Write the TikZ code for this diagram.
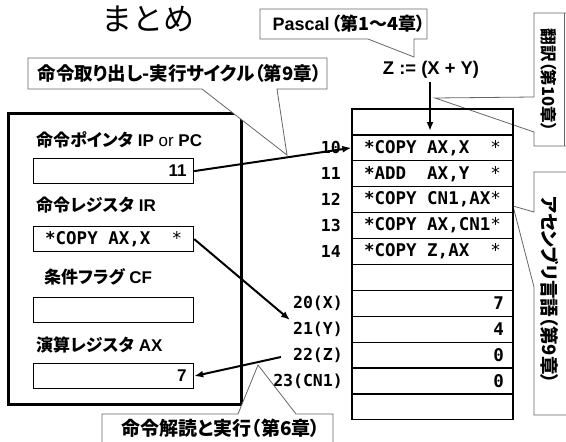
\documentclass[tikz,border=0pt]{standalone}
\usepackage{fontspec}
\setmainfont{Liberation Sans}
\newfontfamily\jp[RawFeature=+palt]{Noto Sans CJK JP}
\newfontfamily\jptitle{Noto Sans CJK JP}
\newfontfamily\mono{DejaVu Sans Mono}
\usetikzlibrary{arrows.meta}
\newcommand\mystar{{\mdseries *}}
\newcommand\msp{\hphantom{X}}
\tikzset{
  lbl/.style={font=\bfseries\fontsize{17}{17}\selectfont, anchor=west, inner sep=0pt},
  calltext/.style={font=\jp\bfseries\fontsize{18.5}{18.5}\selectfont, inner sep=0pt},
  callout/.style={draw=black!60, line width=0.8pt, fill=white},
  reg/.style={draw, line width=1.2pt, minimum height=25pt, inner ysep=0pt, anchor=north west,
              text width=146pt, inner xsep=7pt, font=\bfseries\fontsize{17}{17}\selectfont},
  instr/.style={draw, line width=1.2pt, minimum height=25.9pt, inner ysep=0pt,
              text width=137pt, inner xsep=12pt, align=left, font=\mono\bfseries\fontsize{17.5}{17.5}\selectfont},
  datarow/.style={draw, line width=1.2pt, minimum height=25.9pt, inner ysep=0pt,
              text width=143pt, inner xsep=9pt, align=right, font=\mono\bfseries\fontsize{17.5}{17.5}\selectfont},
  addr/.style={anchor=east, inner sep=0pt, font=\mono\bfseries\fontsize{16.5}{16.5}\selectfont},
  arr/.style={-{Latex[length=9pt,width=7pt]}, line width=2pt},
}
\begin{document}
\begin{tikzpicture}[x=1pt, y=-1pt]
\useasboundingbox (0,0) rectangle (566,442);
\clip (0,0) rectangle (566,442);
\fill[white] (0,0) rectangle (566,442);

% title
\node[font=\jptitle\fontsize{31}{31}\selectfont, inner sep=0pt] (title) at (148,19) {まとめ};

% CPU box
\node[draw, line width=3pt, minimum width=233pt, minimum height=291pt, inner sep=0pt, anchor=north west] (cpu) at (7,112) {};

\node[lbl] (ipl) at (36,140) {{\jp 命令ポインタ} IP {\mdseries or} PC};
\node[reg, align=right] (ip) at (33,158) {11};
\node[lbl] (irl) at (36,205) {{\jp 命令レジスタ} IR};
\node[reg, align=center, font=\mono\bfseries\fontsize{17.5}{17.5}\selectfont] (ir) at (33,226) {*COPY\msp AX,X\msp\msp\mystar};
\node[lbl] (cfl) at (44,277) {{\jp 条件フラグ} CF};
\node[reg] (cf) at (33,297) {};
\node[lbl] (axl) at (36,345) {{\jp 演算レジスタ} AX};
\node[reg, align=right] (ax) at (33,363) {7};

% callouts
\path[callout] (260,9) -- (427,9) -- (427,39) -- (414,39) -- (414,57) -- (368,39) -- (260,39) -- cycle;
\node[inner sep=0pt, font=\bfseries\fontsize{18}{18}\selectfont] (pascal) at (349,24) {Pascal\kern2pt{\jp（第1～4章）}};

\path[callout] (28,58) -- (327,58) -- (327,89) -- (277,89) -- (287,155) -- (202,89) -- (28,89) -- cycle;
\node[calltext] (cycle) at (179.5,73.5) {命令取り出し-実行サイクル（第9章）};

\path[callout] (534,13) -- (570,13) -- (570,146) -- (534,146) -- (534,132) -- (435,98) -- (534,97) -- cycle;
\draw[draw=black!60, line width=0.8pt] (564,13) -- (564,146);
\node[calltext, rotate=-90, font=\jp\bfseries\fontsize{16.5}{16.5}\selectfont] (trans) at (549,80) {翻訳（第10章）};

\path[callout] (534,172) -- (570,172) -- (570,415) -- (534,415) -- (534,287) -- (513,206) -- (534,212) -- cycle;
\node[calltext, rotate=-90] (asm) at (550,290) {アセンブリ言語（第9章）};

\path[callout] (102,414) -- (238,414) -- (258,365) -- (296,414) -- (333,414) -- (333,450) -- (102,450) -- cycle;
\node[calltext, font=\jp\bfseries\fontsize{19}{19}\selectfont] (decode) at (221,428) {命令解読と実行（第6章）};

% Z expression
\node[inner sep=0pt, font=\bfseries\fontsize{18.4}{18.4}\selectfont] (zexpr) at (431,70) {Z := (X + Y)};

% memory table
\node[instr] (r0) at (432.5,121.95) {~};
\node[instr] (r1) at (432.5,147.85) {*COPY\msp AX,X\msp\msp\mystar};
\node[instr] (r2) at (432.5,173.75) {*ADD\msp\msp AX,Y\msp\msp\mystar};
\node[instr] (r3) at (432.5,199.65) {*COPY\msp CN1,AX\mystar};
\node[instr] (r4) at (432.5,225.55) {*COPY\msp AX,CN1\mystar};
\node[instr] (r5) at (432.5,251.45) {*COPY\msp Z,AX\msp\msp\mystar};
\node[instr] (r6) at (432.5,277.35) {~};
\node[datarow] (r7) at (432.5,303.25) {7};
\node[datarow] (r8) at (432.5,329.15) {4};
\node[datarow] (r9) at (432.5,355.05) {0};
\node[datarow] (r10) at (432.5,380.95) {0};
\node[datarow] (r11) at (432.5,406.85) {~};

\node[addr] (a10) at (341,147.85) {10};
\node[addr] (a11) at (341,173.75) {11};
\node[addr] (a12) at (341,199.65) {12};
\node[addr] (a13) at (341,225.55) {13};
\node[addr] (a14) at (341,251.45) {14};
\node[addr] (a20) at (343,303.25) {20(X)};
\node[addr] (a21) at (343,329.15) {21(Y)};
\node[addr] (a22) at (343,355.05) {22(Z)};
\node[addr] (a23) at (343,380.95) {23(CN1)};

% connectors
\coordinate (ztip) at (430,131);
\coordinate (axsrc) at (281,357);
\coordinate (irtip) at (290,320);
\draw[arr] (zexpr.south) ++(-1,3) -- (ztip);
\draw[arr] (ip.east) -- (r1.west);
\draw[arr] (ir.east) -- (irtip);
\draw[arr] (axsrc) -- (ax.east);
\end{tikzpicture}
\end{document}
